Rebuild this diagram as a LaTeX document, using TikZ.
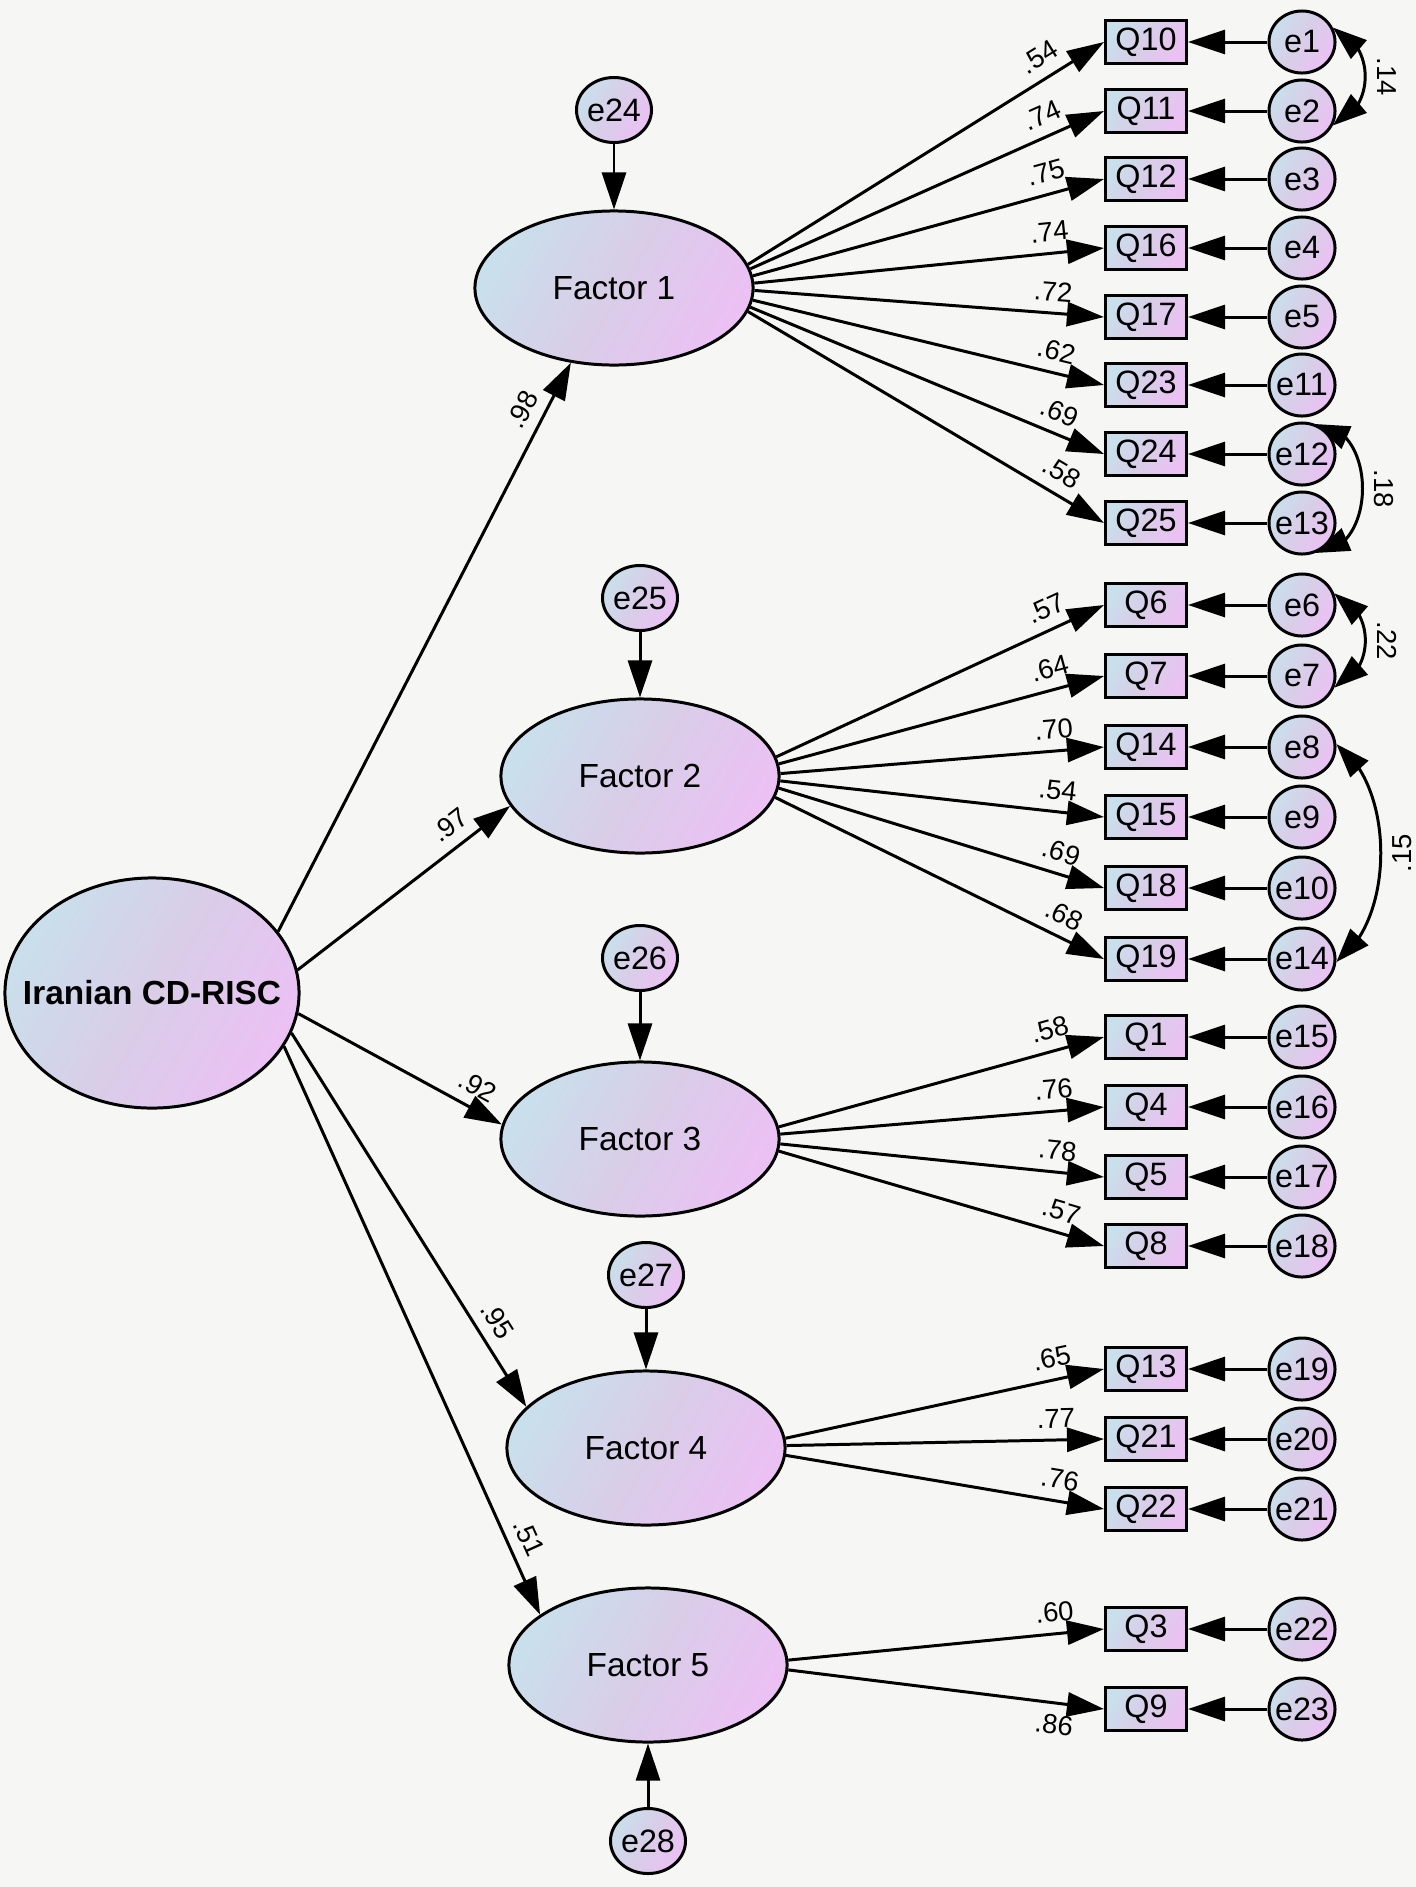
\documentclass[tikz,border=0pt]{standalone}
\usepackage{fontspec}
\setmainfont{Liberation Sans}
\usetikzlibrary{arrows.meta,shapes.geometric,bending}

\definecolor{bgcol}{HTML}{F6F6F4}
\definecolor{lblue}{HTML}{C9DFEB}
\definecolor{lmid}{HTML}{D9CDE8}
\definecolor{lpink}{HTML}{EBC1F4}

\tikzset{
  shd/.style={draw, line width=0.85pt, left color=lblue, right color=lpink, middle color=lmid, shading angle=60},
  latent/.style={shd, ellipse, minimum width=2.78cm, minimum height=1.54cm, inner sep=0pt, font=\fontsize{9.5}{11}\selectfont},
  obs/.style={shd, rectangle, minimum width=0.81cm, minimum height=0.43cm, inner sep=0pt, font=\fontsize{9.2}{11}\selectfont},
  err/.style={shd, ellipse, minimum width=0.66cm, minimum height=0.62cm, inner xsep=-4pt, inner ysep=0pt, font=\fontsize{9.2}{11}\selectfont},
  errbig/.style={err, minimum width=0.75cm, minimum height=0.65cm},
  arr/.style={-{Triangle[length=3.7mm,width=2.4mm]}, line width=0.85pt},
  cov/.style={{Triangle[length=3.4mm,width=2.4mm]}-{Triangle[length=3.4mm,width=2.4mm]}, line width=0.85pt},
  lab/.style={font=\fontsize{7.8}{9}\selectfont, inner sep=3pt}
}

\begin{document}
\begin{tikzpicture}[x=0.01cm,y=0.01cm]
\fill[bgcol] (0,0) rectangle (1416,-1887);
\useasboundingbox (0,0) rectangle (1416,-1887);

% second order factor and the five factors
\node[latent, minimum width=2.94cm, minimum height=2.30cm, inner xsep=-0.3cm,
  font=\bfseries\fontsize{9.5}{11}\selectfont] (main) at (152,-993) {Iranian CD-RISC};
\node[latent] (f1) at (614,-288) {Factor 1};
\node[latent] (f2) at (640,-776) {Factor 2};
\node[latent] (f3) at (640,-1139) {Factor 3};
\node[latent] (f4) at (646,-1448) {Factor 4};
\node[latent] (f5) at (648,-1665) {Factor 5};

% disturbances
\node[errbig] (e24) at (614,-110) {e24};
\node[errbig] (e25) at (640,-598) {e25};
\node[errbig] (e26) at (640,-958) {e26};
\node[errbig] (e27) at (646,-1275) {e27};
\node[errbig] (e28) at (648,-1841) {e28};

\draw[arr] (e24) -- (f1);
\draw[arr] (e25) -- (f2);
\draw[arr] (e26) -- (f3);
\draw[arr] (e27) -- (f4);
\draw[arr] (e28) -- (f5);

\path[arr]
(main.26) edge node[lab, sloped, above, pos=0.9] {.98} (f1.240)
(main.9) edge node[lab, sloped, above, pos=0.78] {.97} (f2.193)
(main.-8) edge node[lab, sloped, above, pos=0.83] {.92} (f3.174)
(main.-16) edge node[lab, sloped, above, pos=0.8] {.95} (f4.161)
(main.-22) edge node[lab, sloped, above, pos=0.88] {.51} (f5.155);

% items with their errors
\foreach \q/\e/\y/\f/\a/\v/\s in {
  10/1/42/f1/10/.54/above, 11/2/111/f1/8/.74/above, 12/3/179/f1/5/.75/above,
  16/4/248/f1/2/.74/above, 17/5/317/f1/-1/.72/above, 23/11/385/f1/-5/.62/above,
  24/12/454/f1/-8/.69/above, 25/13/523/f1/-10/.58/above,
  6/6/605/f2/8/.57/above, 7/7/676/f2/5/.64/above, 14/8/747/f2/1/.70/above,
  15/9/817/f2/-2/.54/above, 18/10/888/f2/-5/.69/above, 19/14/959/f2/-9/.68/above,
  1/15/1037/f3/5/.58/above, 4/16/1107/f3/2/.76/above, 5/17/1177/f3/-2/.78/above,
  8/18/1246/f3/-5/.57/above,
  13/19/1369/f4/4/.65/above, 21/20/1439/f4/1/.77/above, 22/21/1509/f4/-3/.76/above,
  3/22/1629/f5/2/.60/above, 9/23/1709/f5/-2/.86/below}
{
  \node[obs] (q\q) at (1146,-\y) {Q\q};
  \node[err] (e\e) at (1302,-\y) {e\e};
  \draw[arr] (e\e) -- (q\q);
  \draw[arr] (\f.\a) -- node[lab, pos=0.85, sloped, \s] {\v} (q\q.west);
}

% error covariances
\draw[cov] (e1.25) to[out=-20, in=20, looseness=1.2]
  node[lab, midway, anchor=south, rotate=-90] {.14} (e2.-25);
\draw[cov] (e12.66) to[out=0, in=0, looseness=1.25]
  node[lab, midway, anchor=south, rotate=-90] {.18} (e13.-66);
\draw[cov] (e6.20) to[out=-20, in=20, looseness=1.2]
  node[lab, midway, anchor=south, rotate=-90] {.22} (e7.-20);
\draw[cov] (e14.-5) to[out=35, in=-35, looseness=0.85]
  node[lab, midway, anchor=north, rotate=90] {.15} (e8.5);
\end{tikzpicture}
\end{document}
